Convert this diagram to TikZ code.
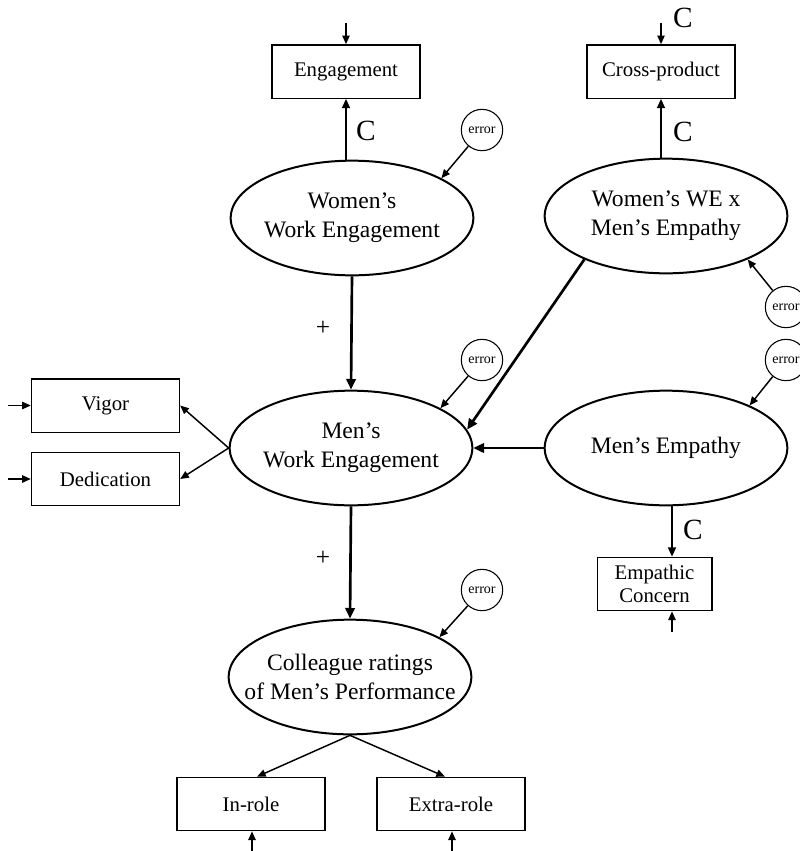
\documentclass[tikz,border=0pt]{standalone}
\usepackage{fontspec}
\setmainfont{Liberation Serif}
\usetikzlibrary{shapes.geometric,arrows.meta}

\tikzset{every picture/.style={line width=0.75pt}}
\tikzset{
  latent/.style={draw, ellipse, line width=1.5pt, minimum width=182pt, minimum height=86pt,
    inner xsep=-18pt, inner ysep=0pt, align=center, font=\fontsize{17.7pt}{21.7pt}\selectfont},
  indic/.style={draw, rectangle, line width=1pt, minimum width=111pt, minimum height=40pt,
    inner sep=0pt, align=center, font=\fontsize{15.6pt}{17.5pt}\selectfont},
  errc/.style={draw, circle, line width=0.8pt, minimum size=31pt, inner sep=0pt,
    font=\fontsize{10.5pt}{12pt}\selectfont},
  clab/.style={inner sep=0pt, font=\fontsize{22pt}{26pt}\selectfont},
  pluslab/.style={inner sep=0pt, font=\fontsize{19pt}{22pt}\selectfont},
  mainarr/.style={line width=2pt, -{Triangle[length=8pt,width=7pt]}},
  midarr/.style={line width=1.3pt, -{Triangle[length=7pt,width=6pt]}},
  thinarr/.style={line width=1.1pt, -{Triangle[length=6.5pt,width=5.5pt]}},
}

\begin{document}
\begin{tikzpicture}[x=0.75pt,y=0.75pt,yscale=-1,xscale=1]
		\useasboundingbox (0,0) rectangle (800,851);
		\clip (0,0) rectangle (800,851);
		
		%Shape: Ellipse [latent variables]
		\node[latent] (wwe) at (352,218) {Women’s\\Work Engagement};
		\node[latent] (wxe) at (666,216) {Women’s WE x\\Men’s Empathy};
		\node[latent] (mwe) at (351,448) {Men’s\\Work Engagement};
		\node[latent] (emp) at (666,448) {Men’s Empathy};
		\node[latent] (col) at (350,677) {Colleague ratings\\of Men’s Performance};
		
		%Shape: Rectangle [indicators]
		\node[indic] (eng) at (346,71.5) {Engagement};
		\node[indic] (cross) at (661,71.5) {Cross-product};
		\node[indic] (vigor) at (105.5,405.5) {Vigor};
		\node[indic] (dedic) at (105.5,479) {Dedication};
		\node[indic, minimum width=86pt] (empcon) at (654.5,584) {Empathic\\Concern};
		\node[indic] (inrole) at (251,804) {In-role};
		\node[indic] (extra) at (451,804) {Extra-role};
		
		%Shape: Circle [errors]
		\node[errc] (err1) at (482,130) {error};
		\node[errc] (err2) at (482,360) {error};
		\node[errc] (err3) at (482,590) {error};
		\node[errc] (err4) at (786,307) {error};
		\node[errc] (err5) at (786,360) {error};
		
		%free ends of the input arrows
		\coordinate (engin) at (346,23);
		\coordinate (crossin) at (661,23);
		\coordinate (vigorin) at (8,405.5);
		\coordinate (dedicin) at (8,479);
		\coordinate (empconin) at (672,632);
		\coordinate (inrolein) at (252,851);
		\coordinate (extrain) at (452,851);
		
		\draw[thinarr] (engin) -- (eng.north);
		\draw[thinarr] (crossin) -- (cross.north);
		\draw[thinarr] (vigorin) -- (vigor.west);
		\draw[thinarr] (dedicin) -- (dedic.west);
		\draw[thinarr] (empconin) -- (empconin |- empcon.south);
		\draw[thinarr] (inrolein) -- (inrolein |- inrole.south);
		\draw[thinarr] (extrain) -- (extrain |- extra.south);
		
		%paths between the latent variables
		\draw[mainarr] (wwe.south) -- (mwe.north);
		\draw[mainarr] (mwe.south) -- (col.north);
		\draw[mainarr] (emp.west) -- (mwe.east);
		\draw[mainarr] (wxe.208) -- (mwe.9);
		
		%loadings
		\draw[midarr] (wwe.north -| eng.south) -- (eng.south);
		\draw[midarr] (wxe.north -| cross.south) -- (cross.south);
		\draw[midarr] (emp.south -| empconin) -- (empconin |- empcon.north);
		\draw[thinarr] (mwe.west) -- (vigor.east);
		\draw[thinarr] (mwe.west) -- (dedic.east);
		\draw[thinarr] (col.south) -- ([xshift=4.5pt]inrole.north);
		\draw[thinarr] (col.south) -- ([xshift=-4.5pt]extra.north);
		
		%errors
		\draw[thinarr] (err1) -- (wwe.24);
		\draw[thinarr] (err2) -- (mwe.24);
		\draw[thinarr] (err3) -- (col.24);
		\draw[thinarr] (err4) -- (wxe.-28);
		\draw[thinarr] (err5) -- (emp.27);
		
		\node[clab] (c1) at (366,131) {C};
		\node[clab] (c2) at (683,18) {C};
		\node[clab] (c3) at (683,132) {C};
		\node[clab] (c4) at (693,530) {C};
		\node[pluslab] (plus1) at (323,328) {+};
		\node[pluslab] (plus2) at (323,558) {+};
		
	\end{tikzpicture}
\end{document}
